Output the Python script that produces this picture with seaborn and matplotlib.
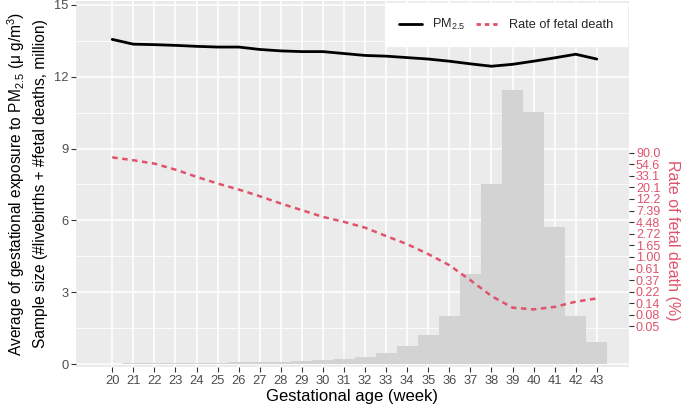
import numpy as np
import matplotlib
matplotlib.use("Agg")
import matplotlib.pyplot as plt
from matplotlib.lines import Line2D
import seaborn as sns

# gestational week, PM2.5 exposure, sample size (million) and fetal death rate (%)
weeks = list(range(20, 44))
pm25 = [13.55, 13.35, 13.33, 13.30, 13.26, 13.23, 13.23, 13.13, 13.07, 13.04,
        13.04, 12.96, 12.88, 12.85, 12.79, 12.73, 12.64, 12.53, 12.43, 12.51,
        12.64, 12.78, 12.93, 12.73]
sample_size = [0.03, 0.04, 0.05, 0.05, 0.05, 0.06, 0.08, 0.09, 0.10, 0.14,
               0.18, 0.24, 0.31, 0.46, 0.76, 1.21, 2.01, 3.76, 7.54, 11.43,
               10.51, 5.71, 2.01, 0.93]
fetal_rate = [73.1, 64.6, 55.9, 43.1, 31.6, 23.7, 18.3, 13.7, 10.0, 7.5,
              5.62, 4.53, 3.53, 2.46, 1.73, 1.13, 0.70, 0.367, 0.185, 0.112,
              0.104, 0.116, 0.145, 0.167]
left_ticks = [0, 3, 6, 9, 12, 15]
rate_tick_labels = ["90.0", "54.6", "33.1", "20.1", "12.2", "7.39", "4.48", "2.72",
                    "1.65", "1.00", "0.61", "0.37", "0.22", "0.14", "0.08", "0.05"]

RED = "#DF536B"

# rate (%) <-> left axis units (log scale)
def to_left(r):
    return 4.48 + 0.967 * np.log(np.clip(r, 1e-12, None))

def to_rate(v):
    return np.exp((np.asarray(v) - 4.48) / 0.967)


sns.set_theme(style="darkgrid", rc={
    "axes.facecolor": "#EBEBEB",
    "grid.color": "white",
})
plt.rcParams["font.family"] = ["Liberation Sans", "DejaVu Sans"]
plt.rcParams["mathtext.default"] = "regular"

fig = plt.figure(figsize=(6.85, 4.08), dpi=100)
ax = fig.add_axes([76 / 685, 1 - 367 / 408, (629 - 76) / 685, 366 / 408])

sns.barplot(x=weeks, y=sample_size, native_scale=True, width=1, color="#D3D3D3",
            saturation=1, linewidth=0, ax=ax, zorder=2)
sns.lineplot(x=weeks, y=pm25, color="black", lw=2.0, ax=ax, zorder=3)
sns.lineplot(x=weeks, y=to_left(np.array(fetal_rate)), color=RED, lw=1.8,
             linestyle=(0, (2.2, 1.8)), ax=ax, zorder=3)

ax.set_xlim(18.28, 44.53)
ax.set_ylim(-0.11, 15.15)
ax.set_xticks(weeks)
ax.set_xticklabels([str(w) for w in weeks])
ax.set_yticks(left_ticks)
ax.set_yticks([1.5, 4.5, 7.5, 10.5, 13.5], minor=True)
ax.grid(True, which="major", color="white", lw=1.1)
ax.grid(True, which="minor", axis="y", color="white", lw=0.55)
ax.set_axisbelow(True)
for s in ax.spines.values():
    s.set_visible(False)

ax.tick_params(axis="both", which="major", length=3.5, width=0.8, color="#333333",
               labelsize=9.3, labelcolor="#4D4D4D", pad=2,
               bottom=True, left=True)
ax.tick_params(axis="y", which="minor", length=0)

ax.set_xlabel("Gestational age (week)", fontsize=12, color="black", labelpad=2)
ax.set_ylabel("Average of gestational exposure to PM$_{2.5}$ ($\\mu$ g/m$^3$)\n"
              "Sample size (#livebirths + #fetal deaths, million)",
              fontsize=11.2, color="black", linespacing=1.5, labelpad=4)

sec = ax.secondary_yaxis("right", functions=(to_rate, to_left))
sec.set_yticks([float(np.exp(k)) for k in np.arange(4.5, -3.01, -0.5)])
sec.set_yticklabels(rate_tick_labels)
sec.tick_params(axis="y", length=3.5, width=0.8, color="#333333",
                labelsize=9, labelcolor=RED, pad=1.5)
sec.yaxis.set_minor_locator(matplotlib.ticker.NullLocator())
for s in sec.spines.values():
    s.set_visible(False)
sec.set_ylabel("Rate of fetal death (%)", fontsize=11.5, color=RED,
               rotation=270, va="center", ha="center")
# centre the right title on the range of its ticks
sec.yaxis.set_label_coords(1.078, 0.345, transform=ax.transAxes)

handles = [Line2D([], [], color="black", lw=2.0),
           Line2D([], [], color=RED, lw=2.0, linestyle=(0, (1.6, 1.4)))]
leg = ax.legend(handles, ["PM$_{2.5}$", "Rate of fetal death"], ncol=2,
                loc="upper right", bbox_to_anchor=(1, 1), borderaxespad=0.15,
                fontsize=9.2, frameon=True, fancybox=False, facecolor="white",
                edgecolor="white", framealpha=1, handlelength=1.8,
                handletextpad=0.8, columnspacing=0.8, borderpad=1.1)
leg.set_zorder(5)

fig.savefig("out.png", dpi=100)
